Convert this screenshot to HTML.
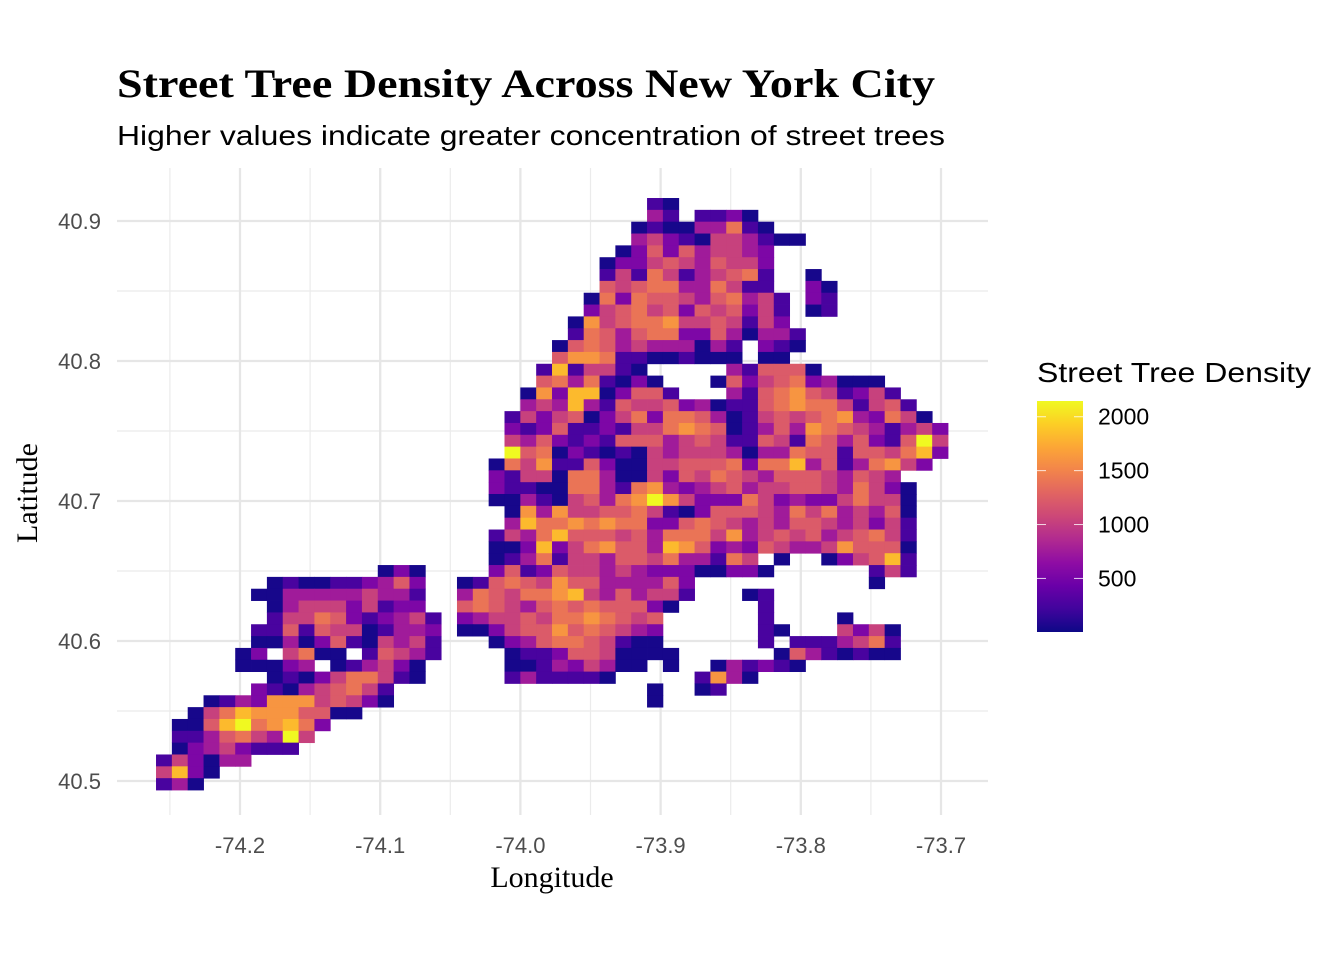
<!DOCTYPE html>
<html><head><meta charset="utf-8"><style>
body{margin:0;background:#fff;}
svg text{font-family:"Liberation Sans",sans-serif;}
</style></head><body>
<svg id="chart" width="1344" height="960" viewBox="0 0 1344 960" xmlns="http://www.w3.org/2000/svg">
<rect x="0" y="0" width="1344" height="960" fill="#fff"/>
<g id="grid"></g>
<g id="cells"></g>
<g id="axes"></g>
<text x="117" y="97" font-weight="bold" font-size="40" fill="#000" textLength="818" lengthAdjust="spacingAndGlyphs" style="font-family:'Liberation Serif',serif">Street Tree Density Across New York City</text>
<text x="117" y="145" font-size="28" fill="#000" textLength="828" lengthAdjust="spacingAndGlyphs">Higher values indicate greater concentration of street trees</text>
<text x="552" y="887" text-anchor="middle" font-size="30" fill="#000" style="font-family:'Liberation Serif',serif">Longitude</text>
<text transform="translate(37,493) rotate(-90)" text-anchor="middle" font-size="30" fill="#000" style="font-family:'Liberation Serif',serif">Latitude</text>
<g id="legend">
<text x="1037" y="382" font-size="28" fill="#000" textLength="274" lengthAdjust="spacingAndGlyphs">Street Tree Density</text>
</g>
</svg>
<script>
// Heatmap data: each row (top = 0) has segments [startColumn, level codes]; '.' = empty bin
const levelValues = [46, 260, 539, 753, 1032, 1225, 1396, 1610, 1825, 2146];
const rowSegments = [
 [[31,"10"]],
 [[31,"31"],[34,"1120"]],
 [[30,"010033610"]],
 [[30,"34210443100"]],
 [[29,"0252534432"]],
 [[28,"02245435442"]],
 [[28,"14164134561..0"]],
 [[28,"54566336411..20"]],
 [[27,"0626554356341.21"]],
 [[27,"2456452545241.01"]],
 [[26,"07456674454142"]],
 [[26,"165356622530331"]],
 [[25,"056534333031.210"]],
 [[25,"577611001000.00"]],
 [[24,"1814410"],[36,"315550"]],
 [[24,"56361020"],[35,"05245623000"]],
 [[23,"0728802551"],[36,"31567541241"]],
 [[23,"3438315445230115676641451"]],
 [[22,"142450246266530145456732640"]],
 [[22,"2125112144676501353765431342"]],
 [[22,"4352121555345411541653521594"]],
 [[22,"9560210104344430336551554682"]],
 [[21,"0647115200445556266835136742"]],
 [[21,"21440663004254654355543543"]],
 [[21,"211006631673234534455436420"]],
 [[21,"003104536797422264232246440"]],
 [[22,"07374455641025554364634350"]],
 [[22,"38667676622565434355434241"]],
 [[21,"143685554536664734545345641"]],
 [[21,"002824675538752325433475550"]],
 [[21,"01361443554633164.0..024581"]],
 [[14,"020"],[21,"251254434322200220"],[45,"141"]],
 [[7,"0100112352"],[19,"015654755333352"],[45,"0"]],
 [[6,"00333334331"],[19,"365466784353441"],[37,"01"]],
 [[7,"0344424122"],[19,"56543565655520"],[38,"1"]],
 [[7,"14465212341"],[19,"2344546676545"],[38,"1"],[43,"0"]],
 [[6,"115154401332"],[19,"0024557565432"],[38,"10"],[43,"4240"]],
 [[6,"003025104341"],[21,"02356654100"],[38,"1"],[40,"1113461"]],
 [[5,"02.4600.15431"],[22,"01125540000"],[39,"05310100"]],
 [[5,"00023.013420"],[22,"001324300"],[32,"0"],[35,"031210"]],
 [[7,"0102466410"],[22,"1311110"],[34,"1730"]],
 [[6,"210345641"],[31,"0"],[34,"01"]],
 [[3,"013277745420"],[31,"0"]],
 [[2,"04687775500"]],
 [[1,"0058967862"]],
 [[1,"113564394"]],
 [[1,"02342111"]],
 [[0,"142033"]],
 [[0,"4820"]],
 [[0,"130"]]
];
const xTickValues = [-74.2, -74.1, -74.0, -73.9, -73.8, -73.7];
const xTickLabels = ["-74.2", "-74.1", "-74.0", "-73.9", "-73.8", "-73.7"];
const yTickValues = [40.5, 40.6, 40.7, 40.8, 40.9];
const yTickLabels = ["40.5", "40.6", "40.7", "40.8", "40.9"];
const legendTicks = [500, 1000, 1500, 2000];
const legendLabels = ["500", "1000", "1500", "2000"];

const NS = "http://www.w3.org/2000/svg";
const lonMin = -74.2599, binW = 0.011298, latMin = 40.49357, binH = 0.008457, nRows = 50;
const vMin = 3, vMax = 2146;
function xScale(lon){ return 240 + (lon + 74.2) * 1402; }
function yScale(lat){ return 781 - (lat - 40.5) * 1400; }
function legendY(v){ return 632 - (v - vMin) / (vMax - vMin) * 231; }
const plasma = ["#0d0887","#41049d","#6a00a8","#8f0da4","#b12a90","#cc4778","#e16462","#f2844b","#fca636","#fcce25","#f0f921"];
function hex(h){ return [parseInt(h.slice(1,3),16),parseInt(h.slice(3,5),16),parseInt(h.slice(5,7),16)]; }
function colorFor(v){
  let t = Math.max(0, Math.min(1, (v - vMin) / (vMax - vMin))) * 10;
  let i = Math.min(9, Math.floor(t)), f = t - i;
  let a = hex(plasma[i]), b = hex(plasma[i+1]);
  return "rgb(" + a.map((c,k)=>Math.round(c + (b[k]-c)*f)).join(",") + ")";
}
function mk(tag, attrs, parent){
  const el = document.createElementNS(NS, tag);
  for (const k in attrs) el.setAttribute(k, attrs[k]);
  parent.appendChild(el);
  return el;
}
const grid = document.getElementById("grid");
for (let k = 0; k < 6; k++) {
  const lon = xTickValues[0] - 0.05 + 0.1 * k;
  const ln = mk("line", {x1:xScale(lon), x2:xScale(lon), y1:168, y2:815, stroke:"#ebebeb", "stroke-width":1.2}, grid);
  
  
}
for (let k = 0; k < 4; k++) {
  const lat = yTickValues[0] + 0.05 + 0.1 * k;
  const ln = mk("line", {x1:117, x2:988, y1:yScale(lat), y2:yScale(lat), stroke:"#ebebeb", "stroke-width":1.2}, grid);
  
  
}
xTickValues.forEach(v => {
  const ln = mk("line", {x1:xScale(v), x2:xScale(v), y1:168, y2:815, stroke:"#e6e6e6", "stroke-width":2.3}, grid);
  
  
});
yTickValues.forEach(v => {
  const ln = mk("line", {x1:117, x2:988, y1:yScale(v), y2:yScale(v), stroke:"#e6e6e6", "stroke-width":2.3}, grid);
  
  
});
const cells = document.getElementById("cells");
rowSegments.forEach((segs, r) => {
  segs.forEach(([start, codes]) => {
    for (let j = 0; j < codes.length; j++) {
      const ch = codes[j];
      if (ch === ".") continue;
      const v = levelValues[+ch];
      const col = start + j;
      const lon0 = lonMin + col * binW, lon1 = lon0 + binW;
      const lat0 = latMin + (nRows - 1 - r) * binH, lat1 = lat0 + binH;
      const x0 = xScale(lon0), x1 = xScale(lon1), y0 = yScale(lat1), y1 = yScale(lat0);
      const rc = mk("rect", {x:x0, y:y0, width:x1-x0+0.4, height:y1-y0+0.4, fill:colorFor(v)}, cells);
      
      
    }
  });
});
const axes = document.getElementById("axes");
xTickValues.forEach((v,i) => {
  const t = mk("text", {x:xScale(v), y:853, "text-anchor":"middle", "font-size":22, fill:"#4d4d4d"}, axes);
  t.textContent = xTickLabels[i];
  
  
});
yTickValues.forEach((v,i) => {
  const t = mk("text", {x:101, y:yScale(v)+8, "text-anchor":"end", "font-size":22, fill:"#4d4d4d"}, axes);
  t.textContent = yTickLabels[i];
  
  
});
const legend = document.getElementById("legend");
const defs = mk("defs", {}, legend);
const grad = mk("linearGradient", {id:"plasmaGrad", x1:0, y1:1, x2:0, y2:0}, defs);
plasma.forEach((c,i) => mk("stop", {offset:(i/10), "stop-color":c}, grad));
const bar = mk("rect", {x:1037, y:401, width:46, height:231, fill:"url(#plasmaGrad)"}, legend);


legendTicks.forEach((v,i) => {
  const y = legendY(v);
  const a = mk("line", {x1:1037, x2:1046, y1:y, y2:y, stroke:"#fff", "stroke-opacity":0.8, "stroke-width":1}, legend);
  
  
  const b = mk("line", {x1:1074, x2:1083, y1:y, y2:y, stroke:"#fff", "stroke-opacity":0.8, "stroke-width":1}, legend);
  
  
  const t = mk("text", {x:1098, y:y+8, "font-size":23, fill:"#000"}, legend);
  t.textContent = legendLabels[i];
  
  
});
</script>
</body></html>
